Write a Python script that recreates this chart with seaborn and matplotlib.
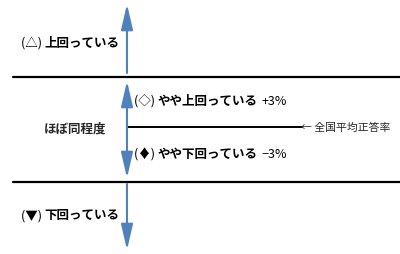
import matplotlib
matplotlib.use("Agg")
import matplotlib.pyplot as plt
import seaborn as sns

sns.set_theme(style="white")
plt.rcParams['font.family'] = ['Noto Sans CJK JP', 'DejaVu Sans']

# Content
level_marks = ["(△)", "(◇)", "(♦)", "(▼)"]
level_labels = ["上回っている", "やや上回っている", "やや下回っている", "下回っている"]
level_deltas = ["", "+3%", "−3%", ""]
middle_label = "ほぼ同程度"
baseline_label = "← 全国平均正答率"

W, H = 400, 255
fig = plt.figure(figsize=(4.0, 2.55), dpi=100)
ax = fig.add_axes([0, 0, 1, 1])
ax.set_xlim(0, W)
ax.set_ylim(H, 0)
ax.axis("off")

blue = "#4F81BD"
fs = 9

# Horizontal separators
ax.plot([13, W], [78, 78], color="black", lw=1.6)
ax.plot([13, W], [183, 183], color="black", lw=1.6)
ax.plot([128, 302], [128, 128], color="black", lw=1.4)

ax_x = 127
arrow = dict(arrowstyle="-|>,head_length=1.3,head_width=0.3", color=blue, lw=1.5, shrinkA=0, shrinkB=0)
arrow2 = dict(arrowstyle="<|-|>,head_length=1.3,head_width=0.3", color=blue, lw=1.5, shrinkA=0, shrinkB=0)
ax.annotate("", xy=(ax_x, 5), xytext=(ax_x, 74), arrowprops=arrow)
ax.annotate("", xy=(ax_x, 82), xytext=(ax_x, 179), arrowprops=arrow2)
ax.annotate("", xy=(ax_x, 251), xytext=(ax_x, 185), arrowprops=arrow)

def label(x, y, mark, text, delta=""):
    t1 = ax.text(x, y, mark + " ", fontsize=fs, va="center", ha="left", color="black")
    fig.canvas.draw()
    bb = t1.get_window_extent()
    x2 = ax.transData.inverted().transform((bb.x1, 0))[0]
    t2 = ax.text(x2, y, text, fontsize=fs, va="center", ha="left", fontweight="bold", color="black")
    if delta:
        fig.canvas.draw()
        bb2 = t2.get_window_extent()
        x3 = ax.transData.inverted().transform((bb2.x1, 0))[0]
        ax.text(x3 + 4, y, delta, fontsize=fs, va="center", ha="left", color="black")

label(21, 43, level_marks[0], level_labels[0])
label(134, 102, level_marks[1], level_labels[1], level_deltas[1])
label(134, 155, level_marks[2], level_labels[2], level_deltas[2])
label(21, 216, level_marks[3], level_labels[3])

ax.text(75, 129, middle_label, fontsize=fs, va="center", ha="center", fontweight="bold")
ax.text(301, 128, baseline_label, fontsize=7.8, va="center", ha="left")

fig.savefig("out.png", dpi=100)
